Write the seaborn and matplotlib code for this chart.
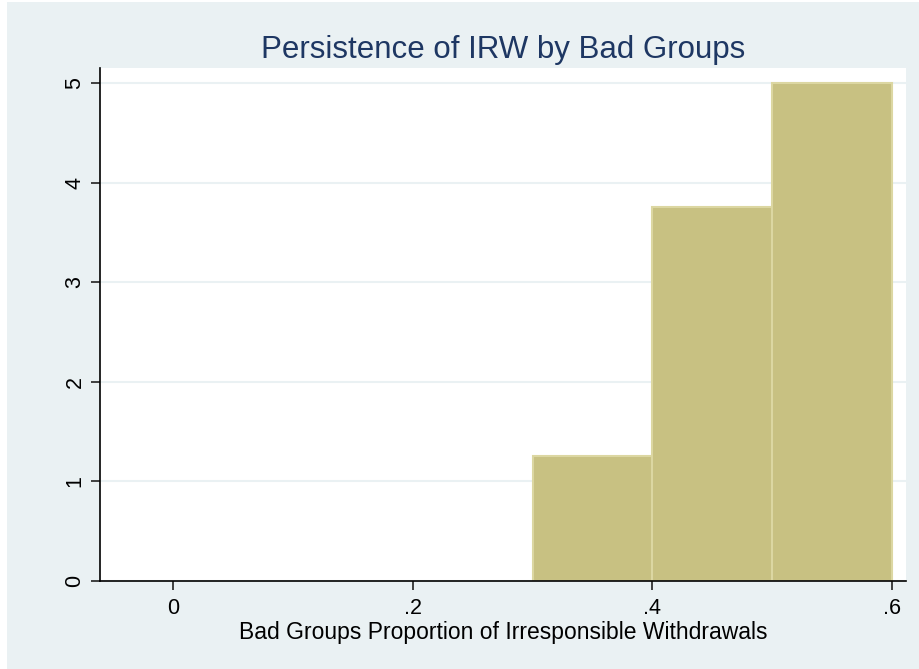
import matplotlib
matplotlib.use("Agg")
import matplotlib.pyplot as plt
import seaborn as sns
from matplotlib.patches import Rectangle

# histogram bins: centres, counts, edges
bin_centers = [0.35, 0.45, 0.55]
bin_counts = [1, 3, 4]
bin_edges = [0.3, 0.4, 0.5, 0.6]
x_ticks = [0, 0.2, 0.4, 0.6]
x_tick_labels = ["0", ".2", ".4", ".6"]
y_ticks = [0, 1, 2, 3, 4, 5]

sns.set_style("white")
plt.rcParams["font.family"] = ["Liberation Sans", "DejaVu Sans"]

bg = "#eaf1f3"
fig = plt.figure(figsize=(9.2, 6.69), dpi=100, facecolor=bg)
fig.patches.append(Rectangle((0, 0), 7 / 920, 1, transform=fig.transFigure,
                             facecolor="white", edgecolor="none", zorder=0))
fig.patches.append(Rectangle((0, 1 - 2 / 669), 1, 2 / 669, transform=fig.transFigure,
                             facecolor="white", edgecolor="none", zorder=0))

ax = fig.add_axes([100 / 920, 88 / 669, 806 / 920, 513 / 669])
ax.set_facecolor("white")

sns.histplot(x=bin_centers, weights=bin_counts, bins=bin_edges, stat="density",
             color="#c8c182", edgecolor="#dcd7a2", linewidth=1.5, alpha=1, ax=ax)

ax.set_xlim(-0.061, 0.6117)
ax.set_ylim(0, 5.15)
ax.set_xticks(x_ticks)
ax.set_xticklabels(x_tick_labels, fontsize=15.5, color="black")
ax.set_yticks(y_ticks)
ax.set_yticklabels([str(v) for v in y_ticks], fontsize=15.5, rotation=90, va="center",
                   color="black")
ax.yaxis.grid(True, color="#eaf1f3", linewidth=1.5, zorder=0)
ax.set_axisbelow(True)

for s in ["top", "right"]:
    ax.spines[s].set_visible(False)
for s in ["left", "bottom"]:
    ax.spines[s].set_color("black")
    ax.spines[s].set_linewidth(1.2)
ax.tick_params(axis="both", direction="out", length=6.5, width=1.2, color="#222222",
               bottom=True, left=True)
ax.tick_params(axis="x", pad=6)
ax.tick_params(axis="y", pad=4)

ax.set_ylabel("")
ax.set_xlabel("Bad Groups Proportion of Irresponsible Withdrawals", fontsize=16.5,
              labelpad=1, color="black")
ax.set_title("Persistence of IRW by Bad Groups", fontsize=22.5, color="#1e3763", pad=7)

fig.savefig("out.png", dpi=100, facecolor=bg)
